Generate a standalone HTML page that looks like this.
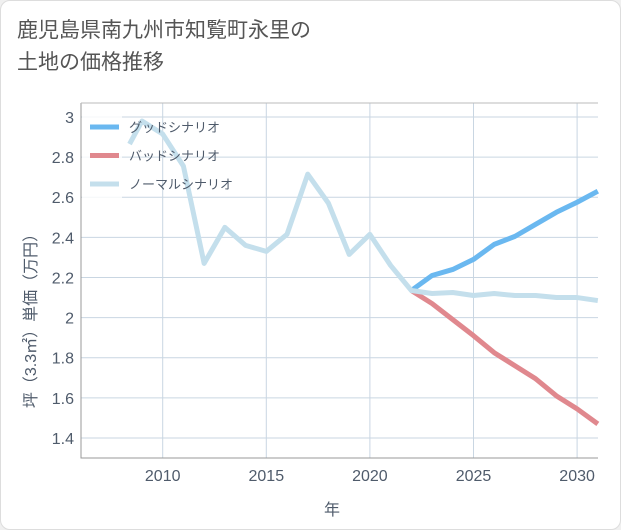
<!DOCTYPE html>
<html><head><meta charset="utf-8">
<style>
body{margin:0;background:#f0f0f0;}
#card{position:absolute;left:0;top:0;width:619px;height:528px;background:#fff;border:1px solid #ddd;border-radius:10px;overflow:hidden;}
#title{position:absolute;left:16px;top:14px;font:21px/32px "Liberation Sans","Noto Sans CJK JP",sans-serif;color:#555;}
svg text{font-family:"Liberation Sans","Noto Sans CJK JP",sans-serif;fill:#4f5b6b;}
</style></head><body>
<div id="card">
<div id="title">鹿児島県南九州市知覧町永里の<br>土地の価格推移</div>
<svg id="chart" width="621" height="530" style="position:absolute;left:0;top:0"></svg>
</div>
<script>
const normalYears=[2008.4,2009,2010,2011,2012,2013,2014,2015,2016,2017,2018,2019,2020,2021,2022,2023,2024,2025,2026,2027,2028,2029,2030,2031];
const normalValues=[2.865,2.98,2.915,2.755,2.27,2.45,2.36,2.33,2.415,2.715,2.57,2.315,2.415,2.26,2.135,2.12,2.125,2.11,2.12,2.11,2.11,2.1,2.1,2.085];
const futureYears=[2022,2023,2024,2025,2026,2027,2028,2029,2030,2031];
const goodValues=[2.135,2.21,2.24,2.29,2.365,2.405,2.465,2.525,2.575,2.63];
const badValues=[2.135,2.07,1.99,1.91,1.825,1.76,1.695,1.61,1.545,1.47];
const xTicks=[2010,2015,2020,2025,2030];
const yTicks=[1.4,1.6,1.8,2,2.2,2.4,2.6,2.8,3];
const yTickLabels=["1.4","1.6","1.8","2","2.2","2.4","2.6","2.8","3"];
const legendLabels=["グッドシナリオ","バッドシナリオ","ノーマルシナリオ"];
const L=80,R=597,T=102,B=457;
const x=v=>161.7+(v-2010)*20.72;
const y=v=>116+(3-v)*200.6;
const svg=document.getElementById('chart');
const NS='http://www.w3.org/2000/svg';
function mk(t,a){const e=document.createElementNS(NS,t);for(const k in a)e.setAttribute(k,a[k]);svg.appendChild(e);return e;}
yTicks.forEach((v,i)=>{
 const g=mk('line',{x1:L,x2:R,y1:y(v),y2:y(v),stroke:'#c9d6e2','stroke-width':1});
 
 
 const t=mk('text',{x:73,y:y(v)+6,'text-anchor':'end','font-size':16});
 t.textContent=yTickLabels[i];
 
 
});
xTicks.forEach(v=>{
 const g=mk('line',{x1:x(v),x2:x(v),y1:T,y2:B,stroke:'#c9d6e2','stroke-width':1});
 
 
 const t=mk('text',{x:x(v),y:480,'text-anchor':'middle','font-size':16});
 t.textContent=String(v);
 
 
});
const frame=mk('path',{d:`M${L},${T}V${B}H${R}`,fill:'none',stroke:'#999','stroke-width':1});


const frameTop=mk('line',{x1:L,x2:R,y1:T,y2:T,stroke:'#bbb','stroke-width':1});


function line(xs,vs,color,name){
 const p=mk('polyline',{points:xs.map((v,i)=>x(v)+','+y(vs[i])).join(' '),fill:'none',stroke:color,'stroke-width':5,'stroke-linejoin':'round'});
 
 
}
line(futureYears,badValues,'#e0888e','bad-scenario-line');
line(futureYears,goodValues,'#6ab8f0','good-scenario-line');
line(normalYears,normalValues,'#c4dfec','normal-scenario-line');
const legColors=['#6ab8f0','#e0888e','#c4dfec'];
const legRect=mk('rect',{x:81,y:110,width:40,height:88,fill:'#fff','fill-opacity':0.8});


legendLabels.forEach((s,i)=>{
 const ly=126+i*28.5;
 const l=mk('line',{x1:89,x2:118,y1:ly,y2:ly,stroke:legColors[i],'stroke-width':5});
 
 
 const t=mk('text',{x:128,y:ly+5,'font-size':13});
 t.textContent=s;
 
 
});
const xt=mk('text',{x:331,y:514,'text-anchor':'middle','font-size':16});
xt.textContent='年';


const yt=mk('text',{x:0,y:0,'text-anchor':'middle','font-size':16,transform:'translate(35,316) rotate(-90)'});
yt.textContent='坪（3.3㎡）単価（万円）';


</script>
</body></html>
